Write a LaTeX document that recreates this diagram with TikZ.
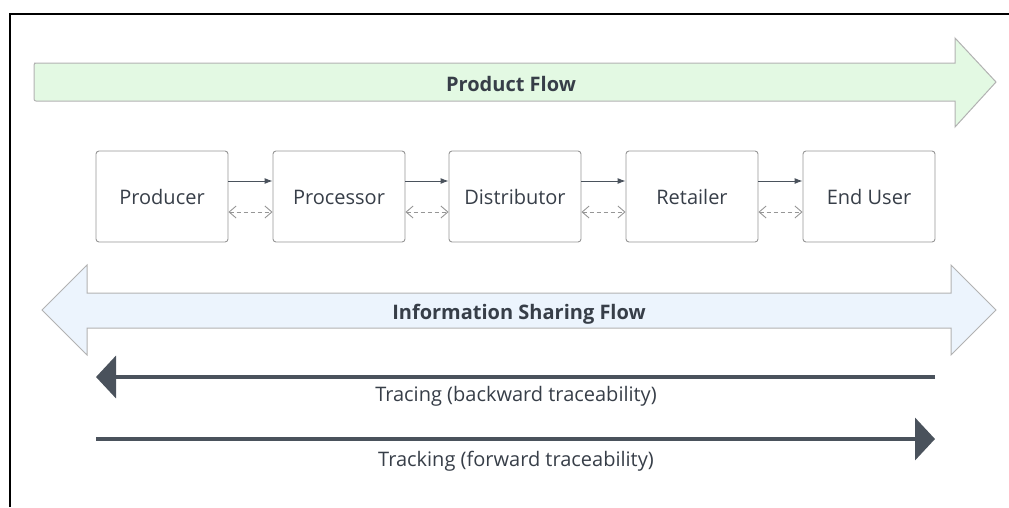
\documentclass[tikz,border=0pt]{standalone}
\usepackage{fontspec}
\setmainfont{Open Sans}
\usetikzlibrary{arrows.meta}
\definecolor{pgreen}{RGB}{227,249,227}
\definecolor{pblue}{RGB}{236,244,253}
\definecolor{bgray}{RGB}{178,178,178}
\definecolor{boxgray}{RGB}{150,150,150}
\definecolor{dark}{RGB}{74,82,92}
\definecolor{txt}{RGB}{55,62,72}
\tikzset{
  stagebox/.style={draw=boxgray, line width=0.9pt, rounded corners=3pt, fill=white,
    minimum width=132pt, minimum height=91pt, inner sep=0pt, text=txt, font=\fontsize{20}{23}\selectfont,
    text height=16pt, text depth=0pt},
  bigarrow/.style={draw=bgray, line width=1pt, line join=miter},
  flowlabel/.style={text=txt, font=\fontsize{20}{23}\selectfont\bfseries, inner sep=0pt,
    text height=16pt, text depth=0pt},
  tracelabel/.style={text=txt, font=\fontsize{20}{23}\selectfont, inner sep=0pt,
    text height=16pt, text depth=0pt},
  solidlink/.style={draw=dark, line width=0.9pt, -{Latex[length=8pt,width=6pt]}},
  dashlink/.style={draw=boxgray, line width=0.9pt, dashed, dash pattern=on 4pt off 3pt,
    {Straight Barb[length=7pt,width=12pt]}-{Straight Barb[length=7pt,width=12pt]}},
  tracearrow/.style={draw=dark, line width=4pt, -{Triangle[length=20pt,width=42pt]}}
}
\begin{document}
\begin{tikzpicture}[x=1pt,y=-1pt]
\useasboundingbox (0,0) rectangle (1009,507);
% frame
\draw[black, line width=2pt] (10,507) -- (10,14) -- (1009,14);
% product flow arrow
\draw[bigarrow, fill=pgreen] (36,63) -- (955,63) -- (955,38) -- (996,82) -- (955,127) -- (955,101) -- (36,101) [rounded corners=2pt] -- (34,101) -- (34,63) -- cycle;
\node[flowlabel] (pf) at (511,83) {Product Flow};
% info sharing arrow
\draw[bigarrow, fill=pblue] (42,310) -- (87,265) -- (87,293) -- (951,293) -- (951,265) -- (996,310) -- (951,355) -- (951,328) -- (87,328) -- (87,355) -- cycle;
\node[flowlabel] (isf) at (519,311) {Information Sharing Flow};
% stage boxes
\node[stagebox] (prod) at (162,196.5) {Producer};
\node[stagebox] (proc) at (339,196.5) {Processor};
\node[stagebox] (dist) at (515,196.5) {Distributor};
\node[stagebox] (ret) at (692,196.5) {Retailer};
\node[stagebox] (eu) at (869,196.5) {End User};
\foreach \a/\b in {prod/proc, proc/dist, dist/ret, ret/eu}{
  \draw[solidlink] ([yshift=15.5pt]\a.east) -- ([yshift=15.5pt]\b.west);
  \draw[dashlink] ([yshift=-15.5pt]\a.east) -- ([yshift=-15.5pt]\b.west);
}
% tracing / tracking
\coordinate (trs) at (935,377);
\coordinate (tre) at (96,377);
\draw[tracearrow] (trs) -- (tre);
\node[tracelabel] (trl) at (516,393) {Tracing (backward traceability)};
\coordinate (tks) at (96,439);
\coordinate (tke) at (935,439);
\draw[tracearrow] (tks) -- (tke);
\node[tracelabel] (tkl) at (516,458) {Tracking (forward traceability)};
\end{tikzpicture}
\end{document}
